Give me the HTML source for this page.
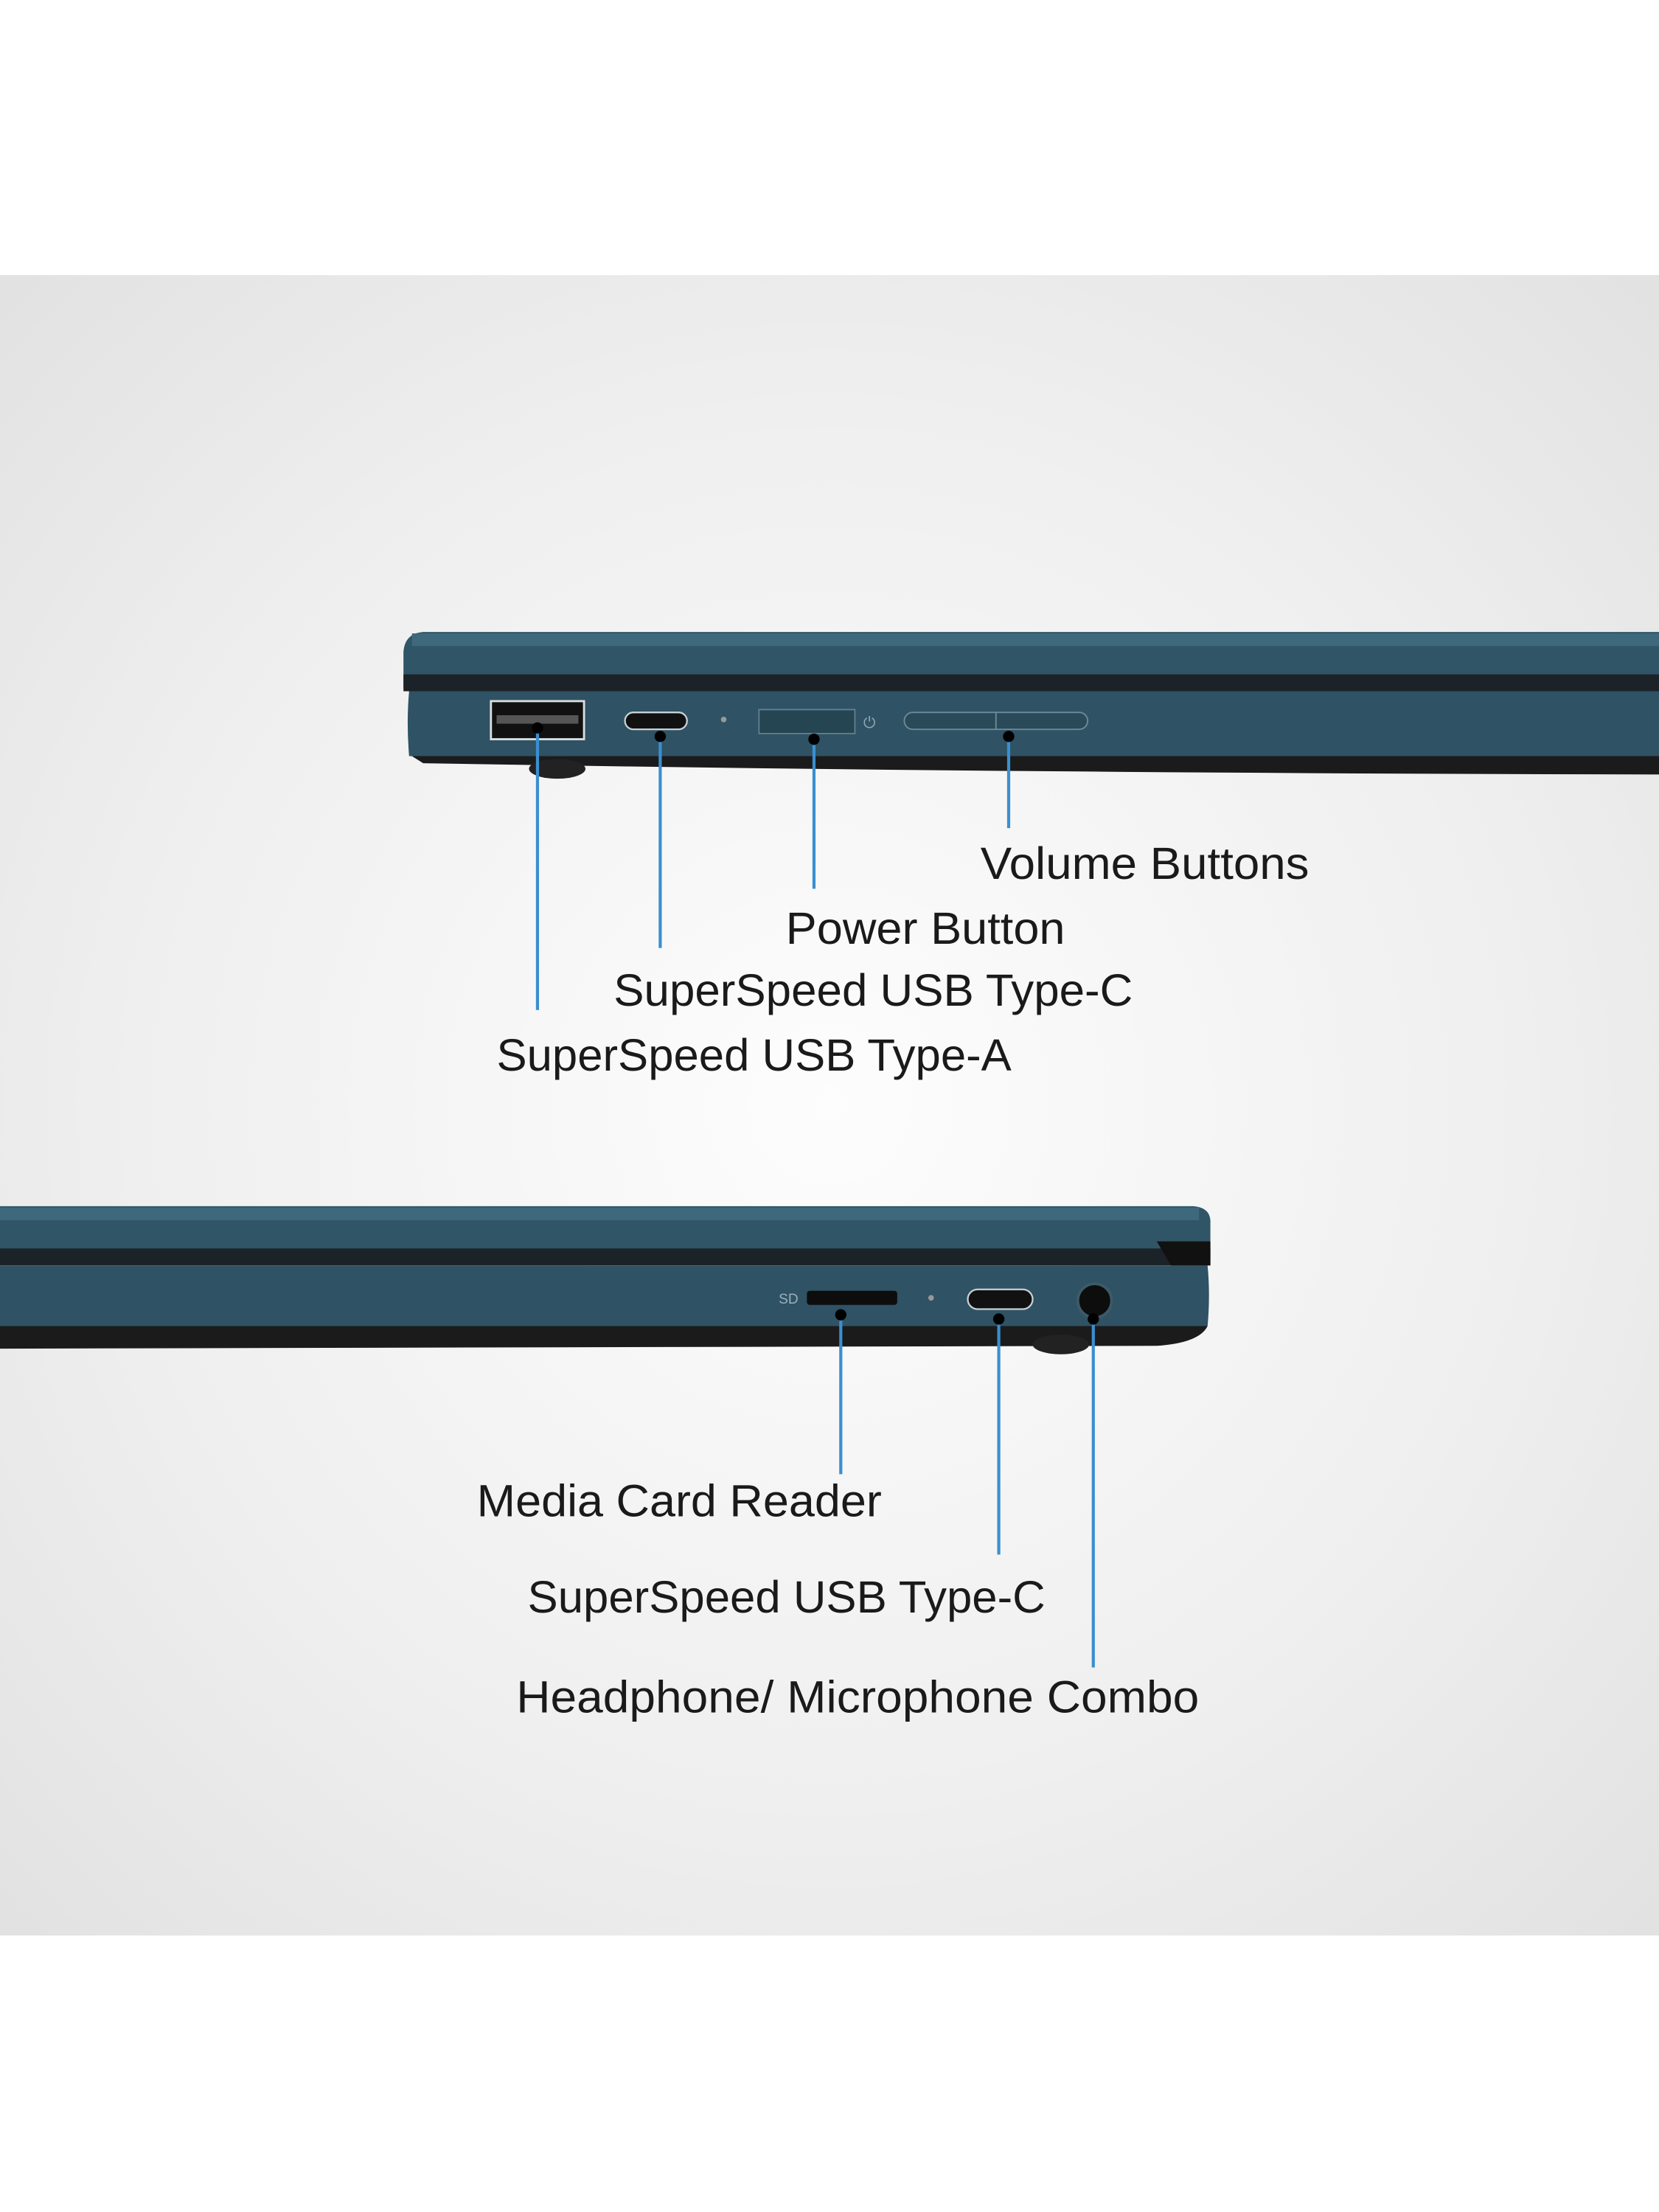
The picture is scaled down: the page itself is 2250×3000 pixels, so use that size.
<!DOCTYPE html>
<html><head><meta charset="utf-8"><style>
html,body{margin:0;padding:0;background:#fff;}
svg{display:block}
text{font-family:"Liberation Sans",sans-serif;fill:#1a1a1a;}
</style></head><body>
<svg width="2250" height="3000" viewBox="0 0 1176 1568" preserveAspectRatio="none" xmlns="http://www.w3.org/2000/svg">
<defs>
<radialGradient id="bg" cx="0.5" cy="0.5" r="0.7">
<stop offset="0" stop-color="#fdfdfd"/><stop offset="0.6" stop-color="#efefef"/><stop offset="1" stop-color="#e2e2e2"/>
</radialGradient>
</defs>
<rect x="0" y="0" width="1176" height="1568" fill="#fff"/>
<rect x="0" y="195" width="1176" height="1177" fill="url(#bg)"/>

<!-- top laptop -->
<path d="M286,462 Q287,449 300,448 L1176,448 L1176,488 L286,488 Z" fill="#2f5567"/>
<rect x="292" y="449" width="884" height="9" fill="#3e687b"/>
<rect x="286" y="478" width="890" height="12" fill="#1c2328"/>
<path d="M290,490 L1176,490 L1176,536 L290,536 Q288,512 290,490 Z" fill="#2f5264"/>
<path d="M292,536 L1176,536 L1176,549 Q700,548 300,541 Z" fill="#1b1b1b"/>
<ellipse cx="395" cy="545" rx="20" ry="7" fill="#222"/>
<rect x="348" y="497" width="66" height="27" fill="#111" stroke="#d8dde0" stroke-width="1.5"/>
<rect x="352" y="507" width="58" height="6" fill="#555"/>
<rect x="443" y="505" width="44" height="12" rx="6" fill="#111" stroke="#c8d0d4" stroke-width="1.2"/>
<rect x="538" y="503" width="68" height="17" fill="#264553" stroke="#5d7f8f" stroke-width="1"/>
<rect x="641" y="505" width="130" height="12" rx="6" fill="#2a4a5a" stroke="#6a8a9a" stroke-width="1"/>
<line x1="706" y1="505" x2="706" y2="517" stroke="#6a8a9a"/>
<circle cx="513" cy="510" r="2" fill="#999"/>
<text x="612" y="516" font-size="11" style="fill:#8fa8b4">⏻</text>

<g stroke="#3a8fd0" stroke-width="2.2">
<line x1="381" y1="516" x2="381" y2="716"/>
<line x1="468" y1="522" x2="468" y2="672"/>
<line x1="577" y1="524" x2="577" y2="630"/>
<line x1="715" y1="522" x2="715" y2="587"/>
</g>
<g fill="#000"><circle cx="381" cy="516" r="4"/><circle cx="468" cy="522" r="4"/><circle cx="577" cy="524" r="4"/><circle cx="715" cy="522" r="4"/></g>
<text x="695" y="623" font-size="32" textLength="233" lengthAdjust="spacingAndGlyphs">Volume Buttons</text>
<text x="557" y="669" font-size="32" textLength="198" lengthAdjust="spacingAndGlyphs">Power Button</text>
<text x="435" y="713" font-size="32" textLength="368" lengthAdjust="spacingAndGlyphs">SuperSpeed USB Type-C</text>
<text x="352" y="759" font-size="32" textLength="365" lengthAdjust="spacingAndGlyphs">SuperSpeed USB Type-A</text>

<!-- bottom laptop -->
<path d="M0,855 L846,855 Q858,856 858,866 L858,892 L0,892 Z" fill="#2f5567"/>
<rect x="0" y="856" width="850" height="9" fill="#3e687b"/>
<rect x="0" y="885" width="858" height="12" fill="#1c2328"/>
<path d="M0,897 L856,897 Q858,918 856,940 L0,940 Z" fill="#2f5264"/>
<path d="M0,940 L856,940 Q850,952 820,954 L0,956 Z" fill="#1b1b1b"/>
<path d="M820,880 L858,880 L858,897 L830,897 Z" fill="#111"/>
<ellipse cx="752" cy="953" rx="20" ry="7" fill="#222"/>
<text x="552" y="924" font-size="10" style="fill:#9ab0bb">SD</text>
<rect x="572" y="915" width="64" height="10" rx="2" fill="#0d0d0d"/>
<circle cx="660" cy="920" r="2" fill="#999"/>
<rect x="686" y="914" width="46" height="14" rx="7" fill="#111" stroke="#c8d0d4" stroke-width="1.2"/>
<circle cx="776" cy="922" r="12" fill="#0d0d0d" stroke="#3c5a68" stroke-width="2"/>

<g stroke="#3a8fd0" stroke-width="2.2">
<line x1="596" y1="930" x2="596" y2="1045"/>
<line x1="708" y1="935" x2="708" y2="1102"/>
<line x1="775" y1="935" x2="775" y2="1182"/>
</g>
<g fill="#000"><circle cx="596" cy="932" r="4"/><circle cx="708" cy="935" r="4"/><circle cx="775" cy="935" r="4"/></g>
<text x="338" y="1075" font-size="32" textLength="287" lengthAdjust="spacingAndGlyphs">Media Card Reader</text>
<text x="374" y="1143" font-size="32" textLength="367" lengthAdjust="spacingAndGlyphs">SuperSpeed USB Type-C</text>
<text x="366" y="1214" font-size="32" textLength="484" lengthAdjust="spacingAndGlyphs">Headphone/ Microphone Combo</text>
</svg>
</body></html>
